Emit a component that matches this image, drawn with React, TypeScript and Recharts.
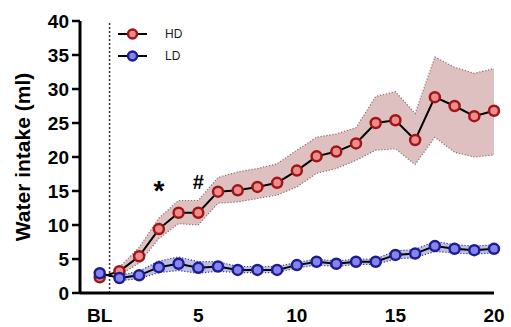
import React from 'react'
import { ComposedChart, Line, Area, XAxis, YAxis, ReferenceLine, ReferenceDot, Legend } from 'recharts'

// days after baseline (0 = BL)
const days = [0, 1, 2, 3, 4, 5, 6, 7, 8, 9, 10, 11, 12, 13, 14, 15, 16, 17, 18, 19, 20]

// HD group: mean and band (BL has no band)
const hdMean = [2.3, 3.2, 5.4, 9.4, 11.8, 11.8, 14.9, 15.1, 15.6, 16.2, 18.0, 20.1, 20.8, 22.0, 25.0, 25.4, 22.5, 28.8, 27.5, 26.0, 26.8]
const hdLow = [null, 2.6, 4.4, 8.0, 10.2, 10.0, 13.2, 13.4, 13.9, 14.4, 15.6, 17.6, 18.3, 19.5, 21.0, 21.2, 18.9, 22.9, 20.7, 20.0, 20.3]
const hdHigh = [null, 3.8, 6.7, 11.0, 13.6, 13.6, 17.0, 17.8, 18.3, 19.0, 21.0, 22.9, 23.4, 24.3, 28.9, 29.6, 26.4, 34.7, 33.2, 32.3, 33.0]

// LD group
const ldMean = [2.9, 2.2, 2.6, 3.8, 4.3, 3.7, 3.9, 3.4, 3.4, 3.4, 4.1, 4.6, 4.3, 4.6, 4.6, 5.6, 5.8, 6.9, 6.5, 6.3, 6.5]
const ldLow = [null, 1.8, 2.1, 3.0, 3.3, 2.9, 3.2, 3.0, 3.0, 3.0, 3.7, 4.1, 3.9, 4.2, 4.2, 5.0, 5.2, 6.1, 5.9, 5.7, 5.9]
const ldHigh = [null, 2.6, 3.2, 4.7, 5.3, 4.6, 4.6, 3.9, 3.9, 3.9, 4.5, 5.0, 4.7, 5.0, 5.0, 6.2, 6.4, 7.6, 7.1, 6.9, 7.1]

const xTicks = [0, 5, 10, 15, 20]
const yTicks = [0, 5, 10, 15, 20, 25, 30, 35, 40]

// significance marks over the HD band
const marks = [
  { day: 3, text: '*' },
  { day: 5, text: '#' },
]

const data = days.map((d, i) => ({
  day: d,
  hd: hdMean[i],
  ld: ldMean[i],
  hdBand: [hdLow[i], hdHigh[i]],
  ldBand: [ldLow[i], ldHigh[i]],
}))

const colors: Record<string, { fill: string; stroke: string }> = {
  HD: { fill: '#ee8c8c', stroke: '#9e1616' },
  LD: { fill: '#8585f0', stroke: '#1d1d92' },
}
const legendItems = ['HD', 'LD']

const font = '"Liberation Sans", Arial, sans-serif'

const renderLegend = () => (
  <div>
    {legendItems.map((name) => {
      const c = colors[name]
      return (
        <div key={name} style={{ display: 'flex', alignItems: 'center', height: 22 }}>
          <svg width={30} height={14}>
            <line x1={0} x2={29} y1={7} y2={7} stroke="#000" strokeWidth={2} />
            <circle cx={14.5} cy={7} r={4.5} fill={c.fill} stroke={c.stroke} strokeWidth={2.5} />
          </svg>
          <span style={{ marginLeft: 17, fontSize: 12, fontFamily: font, color: '#222' }}>{name}</span>
        </div>
      )
    })}
  </div>
)

const App = () => {
  return (
    <div style={{ position: 'absolute', left: 0, top: 0 }}>
      <ComposedChart width={511} height={327} data={data} margin={{ top: 21, right: 17, left: 0, bottom: 4 }}>
        <XAxis
          dataKey="day"
          type="number"
          domain={[-1, 20]}
          ticks={xTicks}
          tickFormatter={(v: number) => (v === 0 ? 'BL' : String(v))}
          tickLine={false}
          tickSize={8}
          tickMargin={8}
          height={30}
          axisLine={{ stroke: '#000', strokeWidth: 3 }}
          tick={{ fill: '#000', fontSize: 19, fontWeight: 700, fontFamily: font }}
        />
        <YAxis
          type="number"
          domain={[0, 40]}
          ticks={yTicks}
          width={80}
          tickSize={8}
          tickMargin={3}
          axisLine={{ stroke: '#000', strokeWidth: 3 }}
          tickLine={{ stroke: '#000', strokeWidth: 2.5 }}
          tick={{ fill: '#000', fontSize: 19, fontWeight: 700, fontFamily: font }}
          label={{
            value: 'Water intake (ml)',
            angle: -90,
            position: 'insideLeft',
            offset: 23,
            style: { textAnchor: 'middle', fontSize: 21, fontWeight: 700, fontFamily: font, fill: '#000' },
          }}
        />
        <ReferenceLine x={0.5} stroke="#333" strokeWidth={1.5} strokeDasharray="2 2" />
        <Area
          dataKey="ldBand"
          fill="#bdbdea"
          fillOpacity={1}
          stroke="#3b3b86"
          strokeWidth={1.2}
          strokeDasharray="1.2 1.8"
          legendType="none"
          isAnimationActive={false}
        />
        <Area
          dataKey="hdBand"
          fill="#dfc0c0"
          fillOpacity={1}
          stroke="#8e6a6a"
          strokeWidth={1.2}
          strokeDasharray="1.2 1.8"
          legendType="none"
          isAnimationActive={false}
        />
        <Line
          dataKey="hd"
          name="HD"
          stroke="#000"
          strokeWidth={2}
          dot={{ r: 5, fill: colors.HD.fill, stroke: colors.HD.stroke, strokeWidth: 2.5 }}
          activeDot={false}
          isAnimationActive={false}
        />
        <Line
          dataKey="ld"
          name="LD"
          stroke="#000"
          strokeWidth={2}
          dot={{ r: 5, fill: colors.LD.fill, stroke: colors.LD.stroke, strokeWidth: 2.5 }}
          activeDot={false}
          isAnimationActive={false}
        />
        {marks.map((m) => (
          <ReferenceDot
            key={m.day}
            x={m.day}
            y={hdHigh[m.day] as number}
            r={0}
            stroke="none"
            fill="none"
            label={{
              value: m.text,
              position: 'top',
              offset: m.text === '*' ? 18 : 12,
              style: { fontSize: m.text === '*' ? 28 : 20, fontWeight: 700, fontFamily: font, fill: '#000' },
            }}
          />
        ))}
        <Legend
          layout="horizontal"
          verticalAlign="middle"
          align="center"
          content={renderLegend}
          wrapperStyle={{ top: 23, left: 118, width: 'auto' }}
        />
      </ComposedChart>
    </div>
  )
}

export default App
